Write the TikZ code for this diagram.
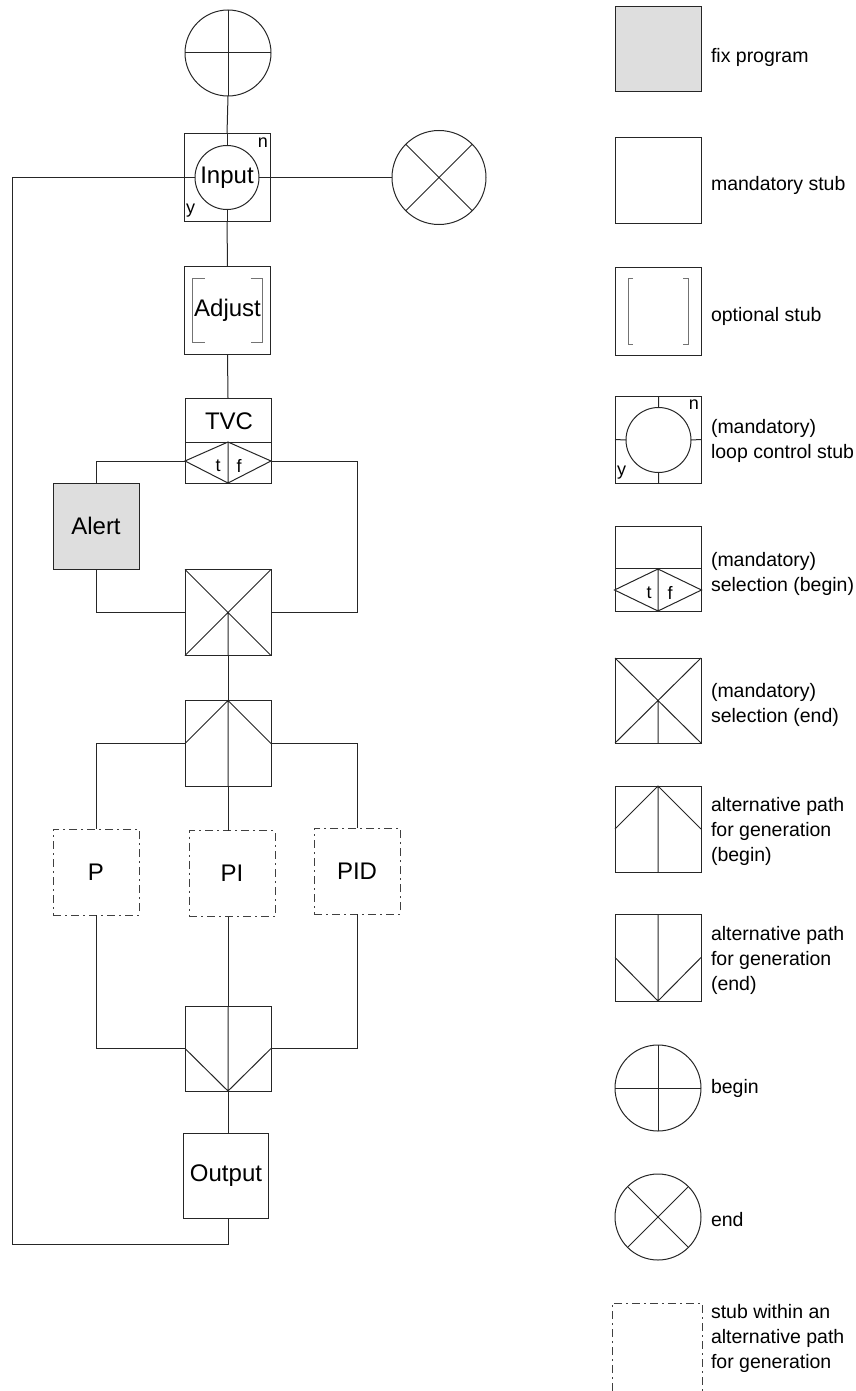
\documentclass[tikz,border=0pt]{standalone}
\usepackage{fontspec}
\setmainfont{Liberation Sans}
\usetikzlibrary{calc}
\newcommand\lbl{\fontsize{24}{28}\selectfont}
\newcommand\legfont{\fontsize{19.5}{25}\selectfont}
\newcommand\smallfont{\fontsize{18}{20}\selectfont}
\tikzset{
  every node/.style={inner sep=0pt, outer sep=0pt},
  ln/.style={line width=1pt, draw=black!85},
  brk/.style={line width=1pt, draw=black!55},
  stub/.style={draw=black!85, line width=1pt, rectangle, minimum width=86pt, minimum height=86pt, font=\lbl},
  fixstub/.style={stub, fill=black!13},
  altdash/.style={draw=black!75, line width=1pt, dash pattern=on 8pt off 4pt on 2pt off 4pt},
  altstub/.style={stub, altdash},
  ring/.style={draw=black!85, line width=1pt, circle, minimum size=86pt},
  leg/.style={anchor=west, align=left, font=\legfont},
  small/.style={font=\smallfont},
}
\begin{document}
\begin{tikzpicture}[x=1pt,y=-1pt]
\useasboundingbox (0,0) rectangle (856,1391);

% ---------------- main chart ----------------
\node[ring] (begin) at (228,53) {};
\draw[ln] (begin.north) -- (begin.south) (begin.west) -- (begin.east);

\node[stub, minimum height=87pt] (input) at (227,177.5) {};
\node[ring, minimum size=64pt, font=\lbl] (inputc) at (227,177.5) {Input};
\draw[ln] (input.north) -- (inputc.north) (input.south) -- (inputc.south)
          (input.west) -- (inputc.west) (input.east) -- (inputc.east);
\node[small, anchor=north east] (inn) at ($(input.north east)+(-2,4)$) {n};
\node[small, anchor=south west] (iny) at ($(input.south west)+(2,-4)$) {y};
\draw[ln] (begin.south) -- (input.north);

\node[ring, minimum size=94pt] (endc) at (439,177.5) {};
\draw[ln] (endc.north west) -- (endc.south east) (endc.north east) -- (endc.south west);
\draw[ln] (input.east) -- (endc.west);

\node[stub, minimum height=88pt] (adjust) at (227.5,310.5) {Adjust};
\draw[brk] ($(adjust.north west)+(20,12)$) -- ($(adjust.north west)+(8,12)$)
           -- ($(adjust.south west)+(8,-12)$) -- ($(adjust.south west)+(20,-12)$);
\draw[brk] ($(adjust.north east)+(-20,12)$) -- ($(adjust.north east)+(-8,12)$)
           -- ($(adjust.south east)+(-8,-12)$) -- ($(adjust.south east)+(-20,-12)$);
\draw[ln] (input.south) -- (adjust.north);

\node[stub, minimum height=85pt] (tvc) at (228,440.5) {};
\node[font=\lbl] (tvclbl) at (229,421) {TVC};
\coordinate (tvcD) at (228,442);
\coordinate (tvcT) at (185,461);
\coordinate (tvcF) at (271,461);
\draw[ln] (tvc.west |- tvcD) -- (tvc.east |- tvcD);
\draw[ln] (tvcD) -- (tvcT) -- (tvc.south) -- (tvcF) -- cycle (tvcD) -- (tvc.south);
\node[small] (tvct) at (218,466) {t};
\node[small] (tvcf) at (239,466) {f};
\draw[ln] (adjust.south) -- (tvc.north);

\node[fixstub] (alert) at (96,526) {Alert};
\draw[ln] (tvcT) -| (alert.north);

\node[stub] (selend) at (228,612.5) {};
\draw[ln] (selend.north west) -- (selend.south east) (selend.north east) -- (selend.south west)
          (selend.center) -- (selend.south);
\draw[ln] (alert.south) |- (selend.west);
\draw[ln] (tvcF) -| ($(selend.east)+(86,0)$) -- (selend.east);

\node[stub] (altb) at (228,743.5) {};
\draw[ln] (altb.west) -- (altb.north) -- (altb.east) (altb.north) -- (altb.south);
\draw[ln] (selend.south) -- (altb.north);

\node[altstub] (p) at (96,872) {P};
\node[altstub] (pi) at (232,873.5) {PI};
\node[altstub] (pid) at (357,871) {PID};
\draw[ln] (altb.west) -| (p.north);
\draw[ln] (altb.east) -| (pid.north);
\draw[ln] (altb.south) -- (altb.south |- pi.north);

\node[stub, minimum height=85pt] (alte) at (228,1048.5) {};
\draw[ln] (alte.west) -- (alte.south) -- (alte.east) (alte.north) -- (alte.south);
\draw[ln] (p.south) |- (alte.west);
\draw[ln] (pid.south) |- (alte.east);
\draw[ln] (alte.north |- pi.south) -- (alte.north);

\node[stub, minimum width=85pt, minimum height=85pt] (output) at (226,1175.5) {Output};
\draw[ln] (alte.south) -- (alte.south |- output.north);
\coordinate (loopc) at (12,1244);
\draw[ln] (alte.south |- output.south) |- (loopc) |- (input.west);

% ---------------- legend ----------------
\node[fixstub, minimum height=85pt] (lfix) at (658,49.5) {};
\node[leg] (tfix) at (711,57) {fix program};

\node[stub, minimum height=85pt] (lmand) at (658,180.5) {};
\node[leg] (tmand) at (711,185) {mandatory stub};

\node[stub, minimum height=88pt] (lopt) at (658,311) {};
\draw[brk] ($(lopt.north west)+(18,11)$) -- ($(lopt.north west)+(13,11)$)
           -- ($(lopt.south west)+(13,-11)$) -- ($(lopt.south west)+(18,-11)$);
\draw[brk] ($(lopt.north east)+(-18,11)$) -- ($(lopt.north east)+(-13,11)$)
           -- ($(lopt.south east)+(-13,-11)$) -- ($(lopt.south east)+(-18,-11)$);
\node[leg] (topt) at (711,316) {optional stub};

\node[stub, minimum height=87pt] (lloop) at (658,439.5) {};
\node[ring, minimum size=65pt] (lloopc) at (658.5,440) {};
\draw[ln] (lloop.north -| lloopc.north) -- (lloopc.north) (lloop.south -| lloopc.south) -- (lloopc.south)
          (lloop.west) -- (lloopc.west) (lloop.east) -- (lloopc.east);
\node[small, anchor=north east] (lln) at ($(lloop.north east)+(-2,4)$) {n};
\node[small, anchor=south west] (lly) at ($(lloop.south west)+(2,-4)$) {y};
\node[leg] (tloop) at (711,441) {(mandatory)\\loop control stub};

\node[stub, minimum height=85pt] (lselb) at (658,568.5) {};
\coordinate (lsD) at (658,569);
\coordinate (lsT) at (614.5,590);
\coordinate (lsF) at (701.5,590);
\draw[ln] (lselb.west) -- (lselb.east);
\draw[ln] (lsD) -- (lsT) -- (lselb.south) -- (lsF) -- cycle (lsD) -- (lselb.south);
\node[small] (lst) at (649,593) {t};
\node[small] (lsf) at (670,593) {f};
\node[leg] (tselb) at (711,574) {(mandatory)\\selection (begin)};

\node[stub, minimum height=85pt] (lsele) at (658,700.5) {};
\draw[ln] (lsele.north west) -- (lsele.south east) (lsele.north east) -- (lsele.south west)
          (lsele.center) -- (lsele.south);
\node[leg] (tsele) at (711,705) {(mandatory)\\selection (end)};

\node[stub] (laltb) at (658,829) {};
\draw[ln] (laltb.west) -- (laltb.north) -- (laltb.east) (laltb.north) -- (laltb.south);
\node[leg] (taltb) at (711,831.5) {alternative path\\for generation\\(begin)};

\node[stub, minimum height=87pt] (lalte) at (658,957.5) {};
\draw[ln] (lalte.west) -- (lalte.south) -- (lalte.east) (lalte.north) -- (lalte.south);
\node[leg] (talte) at (711,960) {alternative path\\for generation\\(end)};

\node[ring] (lbegin) at (658,1088) {};
\draw[ln] (lbegin.north) -- (lbegin.south) (lbegin.west) -- (lbegin.east);
\node[leg] (tbegin) at (711,1088) {begin};

\node[ring] (lend) at (658,1217) {};
\draw[ln] (lend.north west) -- (lend.south east) (lend.north east) -- (lend.south west);
\node[leg] (tend) at (711,1220) {end};

\draw[altdash] (612,1391) -- (612,1303) -- (702,1303) -- (702,1391);
\node[leg] (taltstub) at (711,1338) {stub within an\\alternative path\\for generation};
\end{tikzpicture}
\end{document}
